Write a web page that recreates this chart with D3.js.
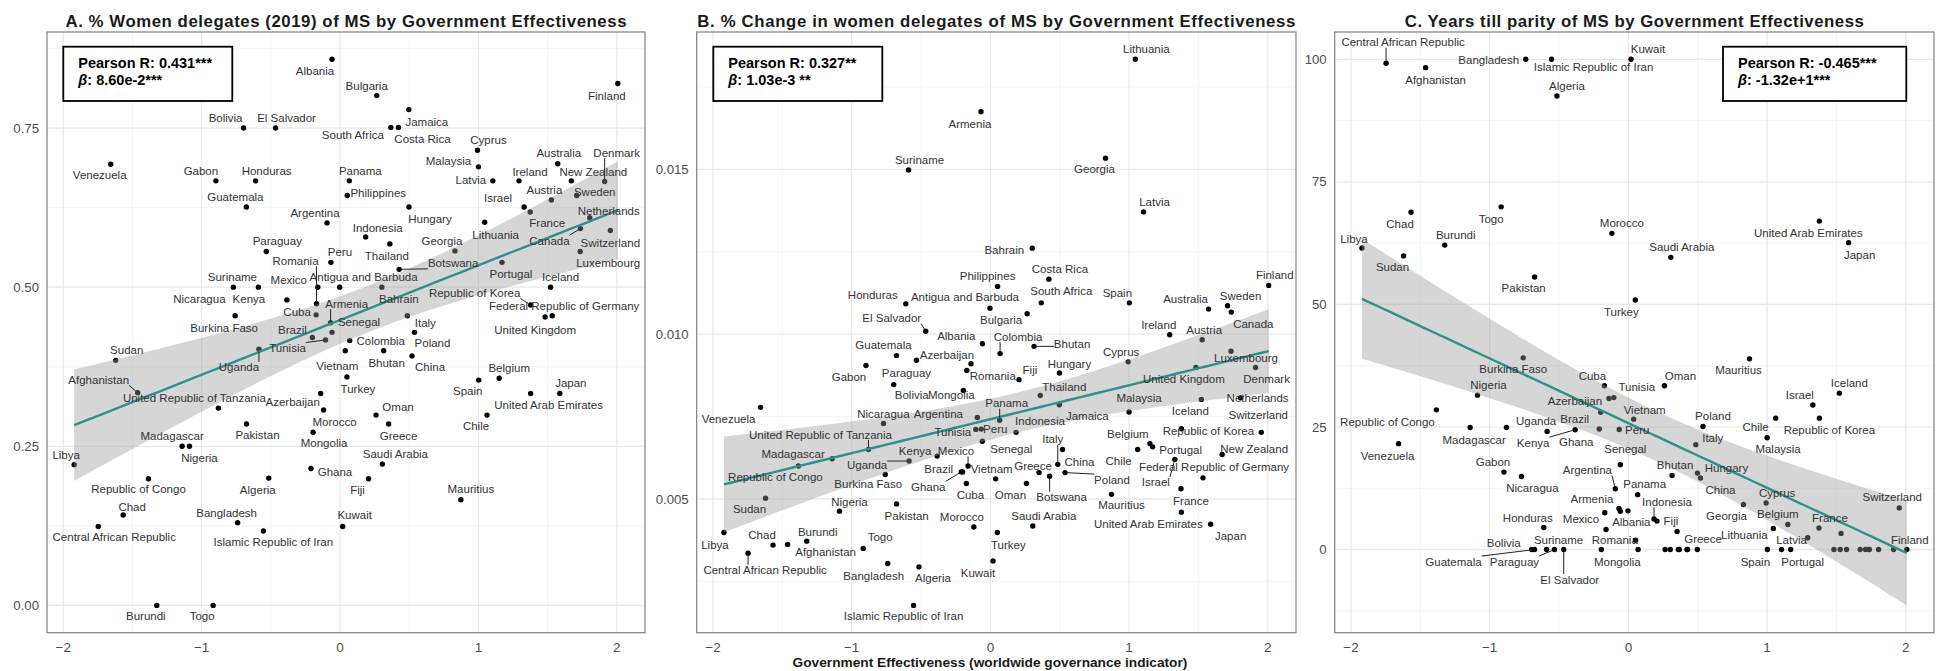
<!DOCTYPE html>
<html>
<head>
<meta charset="utf-8">
<script src="https://cdn.jsdelivr.net/npm/d3@7"></script>
<style>
  body { margin: 0; background: #fff; }
  svg text { font-family: "Liberation Sans", Arial, sans-serif; }
</style>
</head>
<body>
<svg id="chart" width="1936" height="671"></svg>
<script>
// ---- Data: member states, government effectiveness and three outcomes ----
const countries = [
  "Albania","Bulgaria","Finland","Jamaica","South Africa","Costa Rica","Cyprus","Malaysia","Australia","Denmark",
  "New Zealand","Ireland","Latvia","Panama","Philippines","Austria","Sweden","Israel","France","Hungary",
  "Netherlands","Argentina","Indonesia","Lithuania","Canada","Switzerland","Georgia","Thailand","Peru","Botswana",
  "Luxembourg","Portugal","Antigua and Barbuda","Iceland","Bahrain","Republic of Korea","Federal Republic of Germany","United Kingdom","Armenia","Senegal",
  "Italy","Colombia","Poland","Tunisia","Vietnam","Bhutan","China","Turkey","Azerbaijan","Morocco",
  "Oman","Greece","Mongolia","Spain","Belgium","Japan","United Arab Emirates","Chile","Saudi Arabia","Ghana",
  "Fiji","Mauritius","Kuwait","Islamic Republic of Iran","Bangladesh","Algeria","Pakistan","Madagascar","Nigeria","United Republic of Tanzania",
  "Afghanistan","Sudan","Uganda","Libya","Republic of Congo","Chad","Central African Republic","Burundi","Togo","Venezuela",
  "Gabon","Honduras","Guatemala","Bolivia","El Salvador","Paraguay","Romania","Suriname","Nicaragua","Kenya",
  "Mexico","Cuba","Burkina Faso","Brazil"
];

const govEffectiveness = [
  -0.058, 0.265, 2.007, 0.497, 0.367, 0.422, 0.993, 1.000, 1.573, 1.912,
  1.671, 1.293, 1.104, 0.067, 0.052, 1.527, 1.710, 1.330, 1.374, 0.498,
  1.804, -0.094, 0.185, 1.045, 1.737, 1.953, 0.830, 0.360, -0.066, 0.427,
  1.735, 1.170, -0.003, 1.521, 0.302, 1.377, 1.533, 1.482, -0.068, -0.058,
  0.486, 0.070, 0.538, -0.105, 0.038, 0.315, 0.520, 0.050, -0.140, -0.119,
  0.260, 0.351, -0.195, 1.002, 1.150, 1.588, 1.377, 1.062, 0.306, -0.210,
  0.206, 0.873, 0.019, -0.554, -0.740, -0.515, -0.676, -1.141, -1.088, -0.879,
  -1.462, -1.621, -0.586, -1.921, -1.384, -1.567, -1.747, -1.324, -0.917, -1.657,
  -0.897, -0.610, -0.677, -0.697, -0.466, -0.533, -0.170, -0.590, -0.771, -0.384,
  -0.161, -0.173, -0.758, -0.200
];

// share of women among delegates, 2019
const womenDelegateShare = [
  0.858, 0.801, 0.820, 0.779, 0.751, 0.751, 0.715, 0.689, 0.694, 0.666,
  0.667, 0.667, 0.667, 0.667, 0.644, 0.637, 0.644, 0.626, 0.618, 0.626,
  0.609, 0.601, 0.579, 0.602, 0.592, 0.589, 0.557, 0.568, 0.539, 0.528,
  0.556, 0.539, 0.500, 0.500, 0.500, 0.472, 0.455, 0.453, 0.444, 0.429,
  0.455, 0.416, 0.429, 0.417, 0.400, 0.400, 0.392, 0.359, 0.333, 0.307,
  0.299, 0.285, 0.272, 0.354, 0.357, 0.333, 0.333, 0.299, 0.222, 0.215,
  0.199, 0.166, 0.124, 0.117, 0.130, 0.200, 0.285, 0.250, 0.250, 0.310,
  0.334, 0.385, 0.4025, 0.221, 0.199, 0.142, 0.124, 0.000, 0.000, 0.693,
  0.667, 0.667, 0.626, 0.750, 0.750, 0.556, 0.474, 0.500, 0.500, 0.480,
  0.500, 0.4565, 0.455, 0.421
];

// change in the share of women delegates
const womenDelegateChange = [
  0.00971, 0.01062, 0.01148, 0.00786, 0.01095, 0.01167, 0.00916, 0.00764, 0.01076, 0.00899,
  0.00635, 0.00998, 0.01371, 0.00739, 0.01145, 0.00983, 0.01086, 0.00620, 0.00531, 0.00882,
  0.00807, 0.00747, 0.00702, 0.01834, 0.01067, 0.00702, 0.01534, 0.00814, 0.00712, 0.00569,
  0.00948, 0.00658, 0.01079, 0.00802, 0.01261, 0.00713, 0.00564, 0.00899, 0.01675, 0.00675,
  0.00605, 0.00941, 0.00580, 0.00711, 0.00561, 0.00963, 0.00650, 0.00398, 0.00910, 0.00415,
  0.00547, 0.00580, 0.00829, 0.01095, 0.00668, 0.00423, 0.00460, 0.00650, 0.00418, 0.00582,
  0.00862, 0.00514, 0.00312, 0.00177, 0.00304, 0.00294, 0.00485, 0.00622, 0.00463, 0.00650,
  0.00362, 0.00502, 0.00615, 0.00398, 0.00600, 0.00360, 0.00335, 0.00372, 0.00350, 0.00778,
  0.00905, 0.01092, 0.00935, 0.00847, 0.01009, 0.00921, 0.00890, 0.01498, 0.00729, 0.00630,
  0.00600, 0.00547, 0.00574, 0.00582
];

// projected years until gender parity
const yearsToParity = [
  7.8, 0, 0, 0, 0, 0, 9.5, 22.8, 0, 0,
  0, 2.4, 0, 11.2, 1.9, 0, 0, 29.5, 4.4, 15.6,
  0, 12.4, 6.25, 4.3, 0, 8.5, 9.2, 0, 24.5, 0,
  0, 0, 7.9, 31.9, 0, 26.8, 3.3, 0, 8.4, 17.3,
  21.4, 0, 25.1, 31.0, 26.6, 15.1, 14.6, 50.9, 30.8, 64.5,
  33.4, 3.7, 0, 0, 5.1, 62.6, 67.0, 26.8, 59.6, 24.6,
  5.8, 38.9, 100, 100, 100, 92.5, 55.6, 24.9, 31.5, 24.9,
  98.3, 59.9, 24.1, 61.5, 28.5, 68.8, 99.2, 62.1, 69.9, 21.6,
  15.8, 4.5, 0, 0, 0, 0, 7.5, 0, 14.9, 24.45,
  4.1, 33.4, 39.1, 28.0
];

const panelTitles = [
  "A. % Women delegates (2019) of MS by Government Effectiveness",
  "B. % Change in women delegates of MS by Government Effectiveness",
  "C. Years till parity of MS by Government Effectiveness"
];
const xTicks = [-2, -1, 0, 1, 2];
const yTicksA = [0, 0.25, 0.5, 0.75];
const yTicksB = [0.005, 0.010, 0.015];
const yTicksC = [0, 25, 50, 75, 100];
const pearsonLabels = ["0.431***", "0.327**", "-0.465***"];
const betaLabels = ["8.60e-2***", "1.03e-3 **", "-1.32e+1***"];
const betaValues = [8.60e-2, 1.03e-3, -1.32e+1];
const xAxisTitle = "Government Effectiveness (worldwide governance indicator)";

// ---- Label placement (pixel nudges from each point; third entry = leader line) ----
const placeA = {
  "Albania":[-17,12],"Bulgaria":[-10,-10],"Finland":[-11,12],"Jamaica":[18,12],"South Africa":[-38,8],"Costa Rica":[24,12],
  "Cyprus":[11,-10],"Malaysia":[-30,-6],"Australia":[1,-11],"Denmark":[12,-29,1],"New Zealand":[22,-9],"Ireland":[11,-9],
  "Latvia":[-22,-1],"Panama":[11,-10],"Philippines":[31,-3],"Austria":[-7,-10],"Sweden":[18,-4],"Israel":[-26,-9],
  "France":[17,11],"Hungary":[21,12],"Netherlands":[19,-7],"Argentina":[-12,-10],"Indonesia":[12,-9],"Lithuania":[11,13],
  "Canada":[-31,12,1],"Switzerland":[0,12],"Georgia":[-13,-10],"Thailand":[-3,12],"Peru":[9,-10],"Botswana":[54,-6,1],
  "Luxembourg":[28,11],"Portugal":[9,12],"Antigua and Barbuda":[24,-10],"Iceland":[10,-10],"Bahrain":[17,12],
  "Republic of Korea":[-56,-12,1],"Federal Republic of Germany":[12,-10],"United Kingdom":[-10,13],"Armenia":[16,-19,1],
  "Senegal":[27,-10],"Italy":[18,7],"Colombia":[31,0],"Poland":[18,11],"Tunisia":[-38,8,1],"Vietnam":[-8,15],"Bhutan":[3,12],
  "China":[18,11],"Turkey":[11,12],"Azerbaijan":[-28,9],"Morocco":[11,12],"Oman":[22,-8],"Greece":[10,12],"Mongolia":[11,11],
  "Spain":[-11,11],"Belgium":[10,-10],"Japan":[11,-10],"United Arab Emirates":[18,12],"Chile":[-11,11],"Saudi Arabia":[13,-10],
  "Ghana":[24,3],"Fiji":[-11,11],"Mauritius":[10,-11],"Kuwait":[12,-11],"Islamic Republic of Iran":[10,11],"Bangladesh":[-11,-10],
  "Algeria":[-11,12],"Pakistan":[11,11],"Madagascar":[-10,-10],"Nigeria":[10,12],"United Republic of Tanzania":[-24,-10],
  "Afghanistan":[-39,-13,1],"Sudan":[11,-10],"Uganda":[-20,18,1],"Libya":[-8,-10],"Republic of Congo":[-10,10],"Chad":[9,-8],
  "Central African Republic":[16,11],"Burundi":[-11,11],"Togo":[-11,11],"Venezuela":[-11,11],"Gabon":[-15,-10],"Honduras":[11,-10],
  "Guatemala":[-11,-10],"Bolivia":[-18,-10],"El Salvador":[11,-10],"Paraguay":[11,-11],"Romania":[-21,-43,1],"Suriname":[-26,-10],
  "Nicaragua":[-34,12],"Kenya":[-38,-1],"Mexico":[-29,-7],"Cuba":[-19,-3],"Burkina Faso":[-11,12],"Brazil":[-20,-7]
};
const placeB = {
  "Armenia":[-11,12],"Suriname":[11,-10],"Honduras":[-33,-9],"El Salvador":[-34,-13,1],"Albania":[-26,-8],"Lithuania":[11,-10],
  "Georgia":[-11,11],"Latvia":[11,-10],"Bahrain":[-28,2],"Costa Rica":[11,-10],"Philippines":[-10,-10],"South Africa":[20,-12],
  "Spain":[-12,-10],"Antigua and Barbuda":[-25,-11],"Bulgaria":[-26,6],"Australia":[-23,-10],"Sweden":[13,-10],"Canada":[22,12],
  "Finland":[6,-10],"Ireland":[-11,-10],"Austria":[2,-10],"Colombia":[18,-17,1],"Bhutan":[38,-2,1],"Cyprus":[-7,-10],
  "Luxembourg":[15,7],"Hungary":[10,-9],"Fiji":[11,-10],"Romania":[26,6],"United Kingdom":[-12,12],"Denmark":[11,12],
  "Thailand":[24,-8],"Malaysia":[10,-14],"Iceland":[-11,12],"Netherlands":[17,0],"Panama":[7,-17,1],"Jamaica":[28,11],
  "Indonesia":[24,-11],"Switzerland":[-3,-17],"Republic of Korea":[27,2],"Belgium":[-22,-10],"Portugal":[28,3],"Chile":[-19,11],
  "Peru":[14,0],"Senegal":[29,8],"Italy":[-5,-25,1],"China":[17,12],"Poland":[47,7,1],"Greece":[-6,-7],"Botswana":[12,21,1],
  "Vietnam":[-4,-10],"Mexico":[-12,-15,1],"Oman":[-16,12],"Cuba":[4,12],"Mauritius":[10,11],"France":[10,12],
  "United Arab Emirates":[-33,12],"Israel":[-19,23,1],"Federal Republic of Germany":[11,-11],"New Zealand":[32,-5],"Japan":[20,12],
  "Saudi Arabia":[11,-10],"Morocco":[-12,-10],"Turkey":[11,12],"Kuwait":[-15,12],"Guatemala":[-13,-11],"Paraguay":[-10,13],
  "Azerbaijan":[-24,-9],"Gabon":[-17,12],"Bolivia":[18,10],"Mongolia":[-12,4],"Venezuela":[-32,12],"Nicaragua":[0,-10],
  "Argentina":[-39,-4],"United Republic of Tanzania":[-48,-15,1],"Tunisia":[-23,3],"Madagascar":[-39,-5],"Republic of Congo":[-23,11],
  "Uganda":[-42,4,1],"Kenya":[-22,-5],"Burkina Faso":[-17,9],"Brazil":[-24,-3],"Ghana":[-33,15,1],"Sudan":[-16,11],
  "Nigeria":[10,-9],"Pakistan":[10,12],"Libya":[-9,12],"Chad":[-11,-10],"Afghanistan":[38,8],"Burundi":[11,-9],
  "Central African Republic":[17,17,1],"Togo":[17,-11],"Bangladesh":[-14,12],"Algeria":[14,11],"Islamic Republic of Iran":[-10,11]
};
const placeC = {
  "Central African Republic":[17,-21,1],"Afghanistan":[10,12],"Bangladesh":[-37,1],"Islamic Republic of Iran":[42,8],
  "Algeria":[10,-10],"Kuwait":[17,-10],"Chad":[-11,12],"Togo":[-10,12],"Libya":[-8,-9],"Burundi":[11,-10],"Sudan":[-11,11],
  "Pakistan":[-11,11],"Morocco":[10,-10],"Turkey":[-14,12],"Saudi Arabia":[11,-10],"United Arab Emirates":[-11,12],"Japan":[11,12],
  "Burkina Faso":[-10,11],"Nigeria":[11,-10],"Cuba":[-12,-10],"Azerbaijan":[-34,2],"Tunisia":[23,-11],"Republic of Congo":[-49,12],
  "Venezuela":[-11,12],"Madagascar":[4,12],"Uganda":[-11,-10],"Kenya":[-42,13,1],"Brazil":[-26,7],"Ghana":[-23,13],
  "Gabon":[-11,-10],"Nicaragua":[11,11],"Honduras":[-16,-10],"Bolivia":[-28,-7],"Guatemala":[-81,12,1],"Suriname":[12,-10],
  "Paraguay":[-40,12,1],"El Salvador":[6,30,1],"Mongolia":[16,12],"Romania":[10,27],"Mexico":[-25,-10],"Armenia":[-27,-9],
  "Argentina":[-28,-19,1],"Albania":[11,11],"Oman":[16,-10],"Mauritius":[-11,11],"Iceland":[10,-10],"Israel":[-13,-10],
  "Chile":[-20,9],"Malaysia":[11,11],"Republic of Korea":[10,12],"Vietnam":[11,-9],"Peru":[18,1],"Poland":[10,-11],"Italy":[17,-7],
  "Senegal":[5,-16],"Bhutan":[3,-11],"Hungary":[29,-5],"China":[20,12],"Panama":[7,-11],"Indonesia":[13,-17,1],"Fiji":[14,0],
  "Georgia":[-17,12],"Cyprus":[11,-10],"Belgium":[-10,-11],"Lithuania":[-29,6],"Switzerland":[-7,-11],"France":[11,-10],
  "Latvia":[10,-10],"Greece":[26,8],"Spain":[-12,12],"Portugal":[12,12],"Finland":[3,-10]
};

// ---- Layout ----
const panels = [
  { title: panelTitles[0], titleWidth: 561, values: womenDelegateShare, yTicks: yTicksA, fmt: d3.format(".2f"),
    rect: { l: 47, r: 645, t: 32, b: 632.7 }, box: { x: 63.3, y: 46.7, w: 169, h: 54.3 }, place: placeA, k: 0 },
  { title: panelTitles[1], titleWidth: 598, values: womenDelegateChange, yTicks: yTicksB, fmt: d3.format(".3f"),
    rect: { l: 696.7, r: 1296, t: 32, b: 632.7 }, box: { x: 713.3, y: 46.7, w: 169, h: 54.3 }, place: placeB, k: 1 },
  { title: panelTitles[2], titleWidth: 459, values: yearsToParity, yTicks: yTicksC, fmt: d3.format("d"),
    rect: { l: 1334.7, r: 1934, t: 32, b: 632.7 }, box: { x: 1723, y: 46.7, w: 183.3, h: 54.3 }, place: placeC, k: 2 }
];

const svg = d3.select("#chart");
svg.append("rect").attr("width", 1936).attr("height", 671).attr("fill", "#fff");

function t975(df) {
  const z = 1.959964;
  return z + (z ** 3 + z) / (4 * df) + (5 * z ** 5 + 16 * z ** 3 + 3 * z) / (96 * df * df);
}

// Fitted line with the reported slope, through the data centroid, with 95% band
function fitBand(xs, ys, slope) {
  const n = xs.length, mx = d3.mean(xs), my = d3.mean(ys);
  const sxx = d3.sum(xs, x => (x - mx) ** 2);
  const rss = d3.sum(xs, (x, i) => (ys[i] - (my + slope * (x - mx))) ** 2);
  const s = Math.sqrt(rss / (n - 2)), t = t975(n - 2);
  const [x0, x1] = d3.extent(xs);
  return d3.range(80).map(i => {
    const x = x0 + (x1 - x0) * i / 79;
    const f = my + slope * (x - mx);
    const se = s * Math.sqrt(1 / n + (x - mx) ** 2 / sxx);
    return { x, fit: f, lo: f - t * se, hi: f + t * se };
  });
}

function expand([a, b]) { const d = (b - a) * 0.05; return [a - d, b + d]; }

function minorTicks(major, domain) {
  const step = major[1] - major[0];
  const out = [];
  for (let v = major[0] - step / 2; v <= domain[1]; v += step) if (v >= domain[0]) out.push(v);
  return out;
}

panels.forEach(p => {
  const { l, r, t, b } = p.rect;
  const data = countries.map((c, i) => ({ name: c, x: govEffectiveness[i], y: p.values[i] }));
  const band = fitBand(govEffectiveness, p.values, betaValues[p.k]);

  const x = d3.scaleLinear().domain(expand(d3.extent(govEffectiveness))).range([l, r]);
  const yExt = d3.extent([...p.values, ...band.map(d => d.lo), ...band.map(d => d.hi)]);
  const y = d3.scaleLinear().domain(expand(yExt)).range([b, t]);

  const g = svg.append("g");

  // grid
  const grid = g.append("g");
  minorTicks(xTicks, x.domain()).forEach(v => grid.append("line")
    .attr("x1", x(v)).attr("x2", x(v)).attr("y1", t).attr("y2", b).attr("stroke", "#f3f3f3").attr("stroke-width", 0.8));
  minorTicks(p.yTicks, y.domain()).forEach(v => grid.append("line")
    .attr("x1", l).attr("x2", r).attr("y1", y(v)).attr("y2", y(v)).attr("stroke", "#f3f3f3").attr("stroke-width", 0.8));
  xTicks.forEach(v => grid.append("line")
    .attr("x1", x(v)).attr("x2", x(v)).attr("y1", t).attr("y2", b).attr("stroke", "#e8e8e8").attr("stroke-width", 1.2));
  p.yTicks.forEach(v => grid.append("line")
    .attr("x1", l).attr("x2", r).attr("y1", y(v)).attr("y2", y(v)).attr("stroke", "#e8e8e8").attr("stroke-width", 1.2));

  // points
  g.append("g").selectAll("circle").data(data).join("circle")
    .attr("cx", d => x(d.x)).attr("cy", d => y(d.y)).attr("r", 2.7).attr("fill", "#000");

  // confidence band and fitted line
  g.append("path").datum(band)
    .attr("d", d3.area().x(d => x(d.x)).y0(d => y(d.lo)).y1(d => y(d.hi)))
    .attr("fill", "#999999").attr("fill-opacity", 0.4);
  g.append("path").datum(band)
    .attr("d", d3.line().x(d => x(d.x)).y(d => y(d.fit)))
    .attr("fill", "none").attr("stroke", "#2f8f8c").attr("stroke-width", 2.4);

  // repelled-style labels
  const lab = g.append("g");
  data.forEach(d => {
    const pl = p.place[d.name];
    if (!pl) return;
    const px = x(d.x), py = y(d.y);
    const cx = px + pl[0], cy = py + pl[1];
    const txt = lab.append("text").attr("x", cx).attr("y", cy).attr("dy", "0.35em")
      .attr("text-anchor", "middle").attr("font-size", 11.5).attr("fill", "#333").text(d.name);
    if (pl[2]) {
      const w = txt.node().getComputedTextLength() / 2, h = 5.5;
      const ex = Math.max(cx - w, Math.min(px, cx + w));
      const ey = Math.max(cy - h, Math.min(py, cy + h));
      const dx = ex - px, dy = ey - py, dist = Math.hypot(dx, dy);
      if (dist > 4) {
        lab.insert("line", ":first-child")
          .attr("x1", px + dx / dist * 2.5).attr("y1", py + dy / dist * 2.5)
          .attr("x2", ex).attr("y2", ey).attr("stroke", "#222").attr("stroke-width", 1);
      }
    }
  });

  // panel border
  g.append("rect").attr("x", l).attr("y", t).attr("width", r - l).attr("height", b - t)
    .attr("fill", "none").attr("stroke", "#7f7f7f").attr("stroke-width", 1.2);

  // axes labels
  xTicks.forEach(v => g.append("text").attr("x", x(v)).attr("y", 651.5).attr("text-anchor", "middle")
    .attr("font-size", 13.5).attr("fill", "#4d4d4d").text(d3.format("d")(v)));
  p.yTicks.forEach(v => g.append("text").attr("x", l - 8).attr("y", y(v)).attr("dy", "0.35em")
    .attr("text-anchor", "end").attr("font-size", 13.2).attr("fill", "#4d4d4d").text(p.fmt(v)));

  // title
  g.append("text").attr("x", (l + r) / 2).attr("y", 26.5).attr("text-anchor", "middle")
    .attr("font-size", 16.8).attr("font-weight", "bold").attr("fill", "#1a1a1a")
    .attr("textLength", p.titleWidth).attr("lengthAdjust", "spacing").text(p.title);

  // statistics box
  const bx = p.box;
  g.append("rect").attr("x", bx.x).attr("y", bx.y).attr("width", bx.w).attr("height", bx.h)
    .attr("fill", "#fff").attr("stroke", "#000").attr("stroke-width", 1.8);
  const st = g.append("g").attr("font-family", "Lato, 'Open Sans', sans-serif").attr("font-weight", "bold")
    .attr("font-size", 14.5).attr("fill", "#000");
  st.append("text").attr("x", bx.x + 15).attr("y", bx.y + 21.5).text("Pearson R: " + pearsonLabels[p.k]);
  const t2 = st.append("text").attr("x", bx.x + 15).attr("y", bx.y + 38);
  t2.append("tspan").attr("font-style", "italic").text("β");
  t2.append("tspan").text(":  " + betaLabels[p.k]);
});

svg.append("text").attr("x", 990).attr("y", 667).attr("text-anchor", "middle")
  .attr("font-size", 13.7).attr("font-weight", "bold").attr("fill", "#1a1a1a").text(xAxisTitle);
</script>
</body>
</html>
